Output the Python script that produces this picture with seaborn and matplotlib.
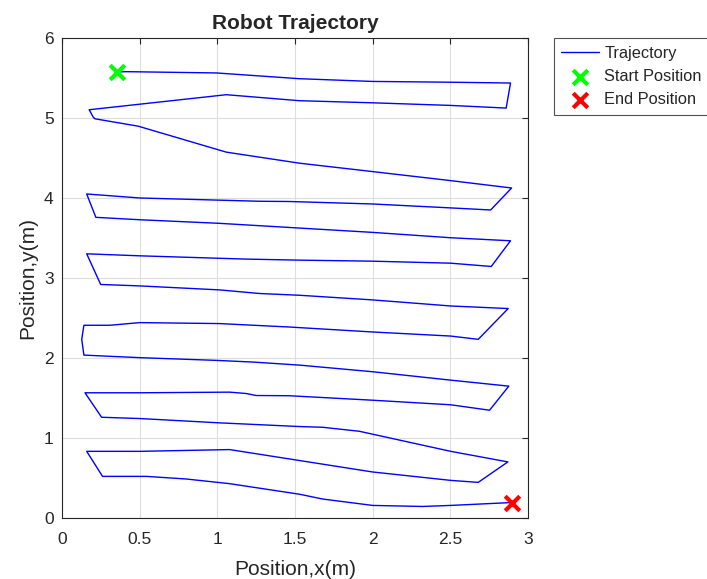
import numpy as np
import pandas as pd
import matplotlib
matplotlib.use('Agg')
import matplotlib.pyplot as plt
import seaborn as sns

# trajectory points (metres)
traj_x = [0.351, 0.416, 0.994, 1.529, 1.997, 2.503, 2.888, 2.860, 2.503, 1.997,
          1.529, 1.058, 0.175, 0.201, 0.212, 0.490, 1.058, 1.529, 2.000, 2.503,
          2.895, 2.760, 2.513, 2.000, 1.464, 1.272, 0.501, 0.159, 0.218, 0.501,
          1.015, 1.529, 2.000, 2.503, 2.888, 2.764, 2.503, 2.000, 1.529, 1.186,
          0.501, 0.159, 0.249, 0.501, 1.015, 1.272, 1.529, 2.000, 2.503, 2.873,
          2.680, 2.503, 2.000, 1.464, 1.015, 0.501, 0.308, 0.141, 0.127, 0.141,
          0.501, 0.994, 1.229, 1.529, 2.000, 2.503, 2.877, 2.753, 2.503, 2.000,
          1.464, 1.250, 1.186, 1.079, 0.501, 0.148, 0.255, 0.501, 1.015, 1.529,
          1.678, 1.914, 2.503, 2.871, 2.680, 2.503, 2.000, 1.464, 1.079, 0.501,
          0.159, 0.261, 0.544, 0.801, 1.079, 1.529, 1.678, 2.000, 2.320, 2.503,
          2.895]
traj_y = [5.580, 5.584, 5.568, 5.496, 5.462, 5.452, 5.442, 5.129, 5.162, 5.195,
          5.221, 5.296, 5.108, 5.016, 4.995, 4.903, 4.578, 4.440, 4.335, 4.222,
          4.130, 3.855, 3.880, 3.930, 3.961, 3.964, 4.005, 4.055, 3.763, 3.733,
          3.688, 3.629, 3.575, 3.508, 3.470, 3.149, 3.190, 3.215, 3.228, 3.241,
          3.282, 3.307, 2.924, 2.906, 2.856, 2.811, 2.789, 2.731, 2.655, 2.623,
          2.238, 2.279, 2.330, 2.392, 2.435, 2.447, 2.414, 2.414, 2.238, 2.041,
          2.009, 1.975, 1.954, 1.916, 1.833, 1.728, 1.653, 1.352, 1.420, 1.477,
          1.533, 1.536, 1.561, 1.578, 1.570, 1.570, 1.264, 1.248, 1.194, 1.148,
          1.139, 1.089, 0.838, 0.706, 0.450, 0.475, 0.580, 0.743, 0.860, 0.838,
          0.838, 0.525, 0.525, 0.492, 0.434, 0.302, 0.242, 0.162, 0.149, 0.162,
          0.198]
start_pos = [0.351, 5.580]
end_pos = [2.895, 0.190]

df = pd.DataFrame({'x': traj_x, 'y': traj_y})

sns.set_style('white')
plt.rcParams['font.family'] = ['Liberation Sans', 'DejaVu Sans']

fig = plt.figure(figsize=(7.07, 5.79), dpi=100)
ax = fig.add_axes([0.0877, 0.1047, 0.659, 0.829])

sns.lineplot(data=df, x='x', y='y', sort=False, estimator=None, color='blue',
             linewidth=1.0, label='Trajectory', ax=ax)
sns.scatterplot(x=[start_pos[0]], y=[start_pos[1]], marker='x', s=110,
                color='#00ff00', linewidth=3, label='Start Position', ax=ax, zorder=5)
sns.scatterplot(x=[end_pos[0]], y=[end_pos[1]], marker='x', s=110,
                color='red', linewidth=3, label='End Position', ax=ax, zorder=5)

ax.set_xlim(0, 3)
ax.set_ylim(0, 6)
ax.set_xticks([0, 0.5, 1, 1.5, 2, 2.5, 3])
ax.set_xticklabels(['0', '0.5', '1', '1.5', '2', '2.5', '3'])
ax.set_yticks([0, 1, 2, 3, 4, 5, 6])
ax.grid(True, color='#dedede', linewidth=0.8)
ax.set_axisbelow(True)
for s in ax.spines.values():
    s.set_color('#262626')
    s.set_linewidth(0.8)
ax.tick_params(direction='in', top=True, right=True, length=4, width=0.8,
               colors='#262626', labelsize=12.5)
ax.tick_params(axis='x', pad=10)
ax.tick_params(axis='y', pad=6)

ax.set_title('Robot Trajectory', fontsize=15, fontweight='bold', pad=7)
ax.set_xlabel('Position,x(m)', fontsize=15, labelpad=9.5)
ax.set_ylabel('Position,y(m)', fontsize=15, labelpad=5)

leg = ax.legend(loc='upper left', bbox_to_anchor=(1.055, 1.0), fontsize=11.8,
                frameon=True, fancybox=False, edgecolor='#262626',
                borderpad=0.45, labelspacing=0.5, handlelength=2.35,
                handletextpad=0.3, borderaxespad=0)
leg.get_frame().set_linewidth(0.8)

fig.savefig('out.png', dpi=100)
